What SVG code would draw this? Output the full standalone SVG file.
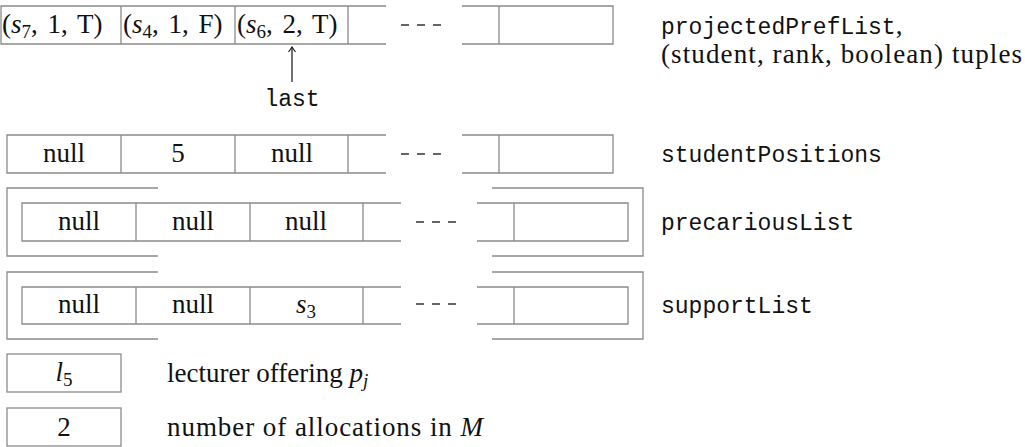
<svg xmlns="http://www.w3.org/2000/svg" width="1025" height="447" viewBox="0 0 1025 447">
<style>
.b{fill:none;stroke:#8a8a8a;stroke-width:1.3}
.d{stroke:#333;stroke-width:1.6;stroke-dasharray:8 8;fill:none}
.s{font-family:"Liberation Serif","Times New Roman",serif;font-size:27px;fill:#111}
.c{text-anchor:middle}
.m{font-family:"Liberation Mono","Courier New",monospace;font-size:23px;fill:#111}
.i{font-style:italic}
.sub{font-size:19px}
</style>
<defs>
<marker id="ah" markerWidth="10" markerHeight="10" refX="0" refY="0" viewBox="-6 -5 8 10" orient="auto" markerUnits="userSpaceOnUse">
<path d="M-5,-3.5 Q-1.5,-1 0,0 Q-1.5,1 -5,3.5" fill="none" stroke="#111" stroke-width="1.1"/>
</marker>
</defs>

<g id="projectedPrefList">
<path class="b" d="M386,6 H1 V44 H386 M121,6 V44 M235,6 V44 M348,6 V44"/>
<path class="b" d="M462,6 H613 V44 H462 M499,6 V44"/>
<path class="d" d="M401,25 H441"/>
<text class="s" x="2" y="33" word-spacing="3"><tspan>(</tspan><tspan class="i">s</tspan><tspan class="sub" dy="5">7</tspan><tspan dy="-5">, 1, T)</tspan></text>
<text class="s" x="123" y="33" word-spacing="3"><tspan>(</tspan><tspan class="i">s</tspan><tspan class="sub" dy="5">4</tspan><tspan dy="-5">, 1, F)</tspan></text>
<text class="s" x="237" y="33" word-spacing="3"><tspan>(</tspan><tspan class="i">s</tspan><tspan class="sub" dy="5">6</tspan><tspan dy="-5">, 2, T)</tspan></text>
<text class="m" x="661" y="34">projectedPrefList<tspan class="s">,</tspan></text>
<text class="s" x="661" y="63" textLength="361">(student, rank, boolean) tuples</text>
</g>

<g id="lastLabel">
<text class="m c" x="292" y="106">last</text>
</g>

<g id="studentPositions">
<path class="b" d="M386,135 H7 V173 H386 M121,135 V173 M235,135 V173 M348,135 V173"/>
<path class="b" d="M462,135 H613 V173 H462 M499,135 V173"/>
<path class="d" d="M401,154 H441"/>
<text class="s c" x="64" y="162">null</text>
<text class="s c" x="178" y="162">5</text>
<text class="s c" x="292" y="162">null</text>
<text class="m" x="661" y="162">studentPositions</text>
</g>

<g id="precariousList">
<path class="b" d="M158,188 H7 V256 H158"/>
<path class="b" d="M492,188 H643 V256 H492"/>
<path class="b" d="M401,203 H22 V241 H401 M136,203 V241 M250,203 V241 M363,203 V241"/>
<path class="b" d="M477,203 H628 V241 H477 M514,203 V241"/>
<path class="d" d="M416,222 H457"/>
<text class="s c" x="79" y="230">null</text>
<text class="s c" x="193" y="230">null</text>
<text class="s c" x="306" y="230">null</text>
<text class="m" x="661" y="230">precariousList</text>
</g>

<g id="supportList">
<path class="b" d="M158,272 H7 V339 H158"/>
<path class="b" d="M492,272 H643 V339 H492"/>
<path class="b" d="M401,287 H22 V324 H401 M136,287 V324 M250,287 V324 M363,287 V324"/>
<path class="b" d="M477,287 H628 V324 H477 M514,287 V324"/>
<path class="d" d="M416,304 H457"/>
<text class="s c" x="79" y="313">null</text>
<text class="s c" x="193" y="313">null</text>
<text class="s c" x="306" y="313"><tspan class="i">s</tspan><tspan class="sub" dy="5">3</tspan></text>
<text class="m" x="661" y="313">supportList</text>
</g>

<g id="lecturer">
<rect class="b" x="7" y="354" width="114" height="38"/>
<text class="s c" x="64" y="381"><tspan class="i">l</tspan><tspan class="sub" dy="5">5</tspan></text>
<text class="s" x="167" y="382"><tspan>lecturer offering </tspan><tspan class="i">p</tspan><tspan class="i sub" dy="5">j</tspan></text>
</g>

<g id="allocations">
<rect class="b" x="7" y="408" width="114" height="38"/>
<text class="s c" x="64" y="436">2</text>
<text class="s" x="167" y="436" textLength="316">number of allocations in <tspan class="i">M</tspan></text>
</g>

<g id="connectors">
<line x1="292" y1="82" x2="292" y2="47" stroke="#111" stroke-width="1.2" marker-end="url(#ah)"/>
</g>
</svg>
